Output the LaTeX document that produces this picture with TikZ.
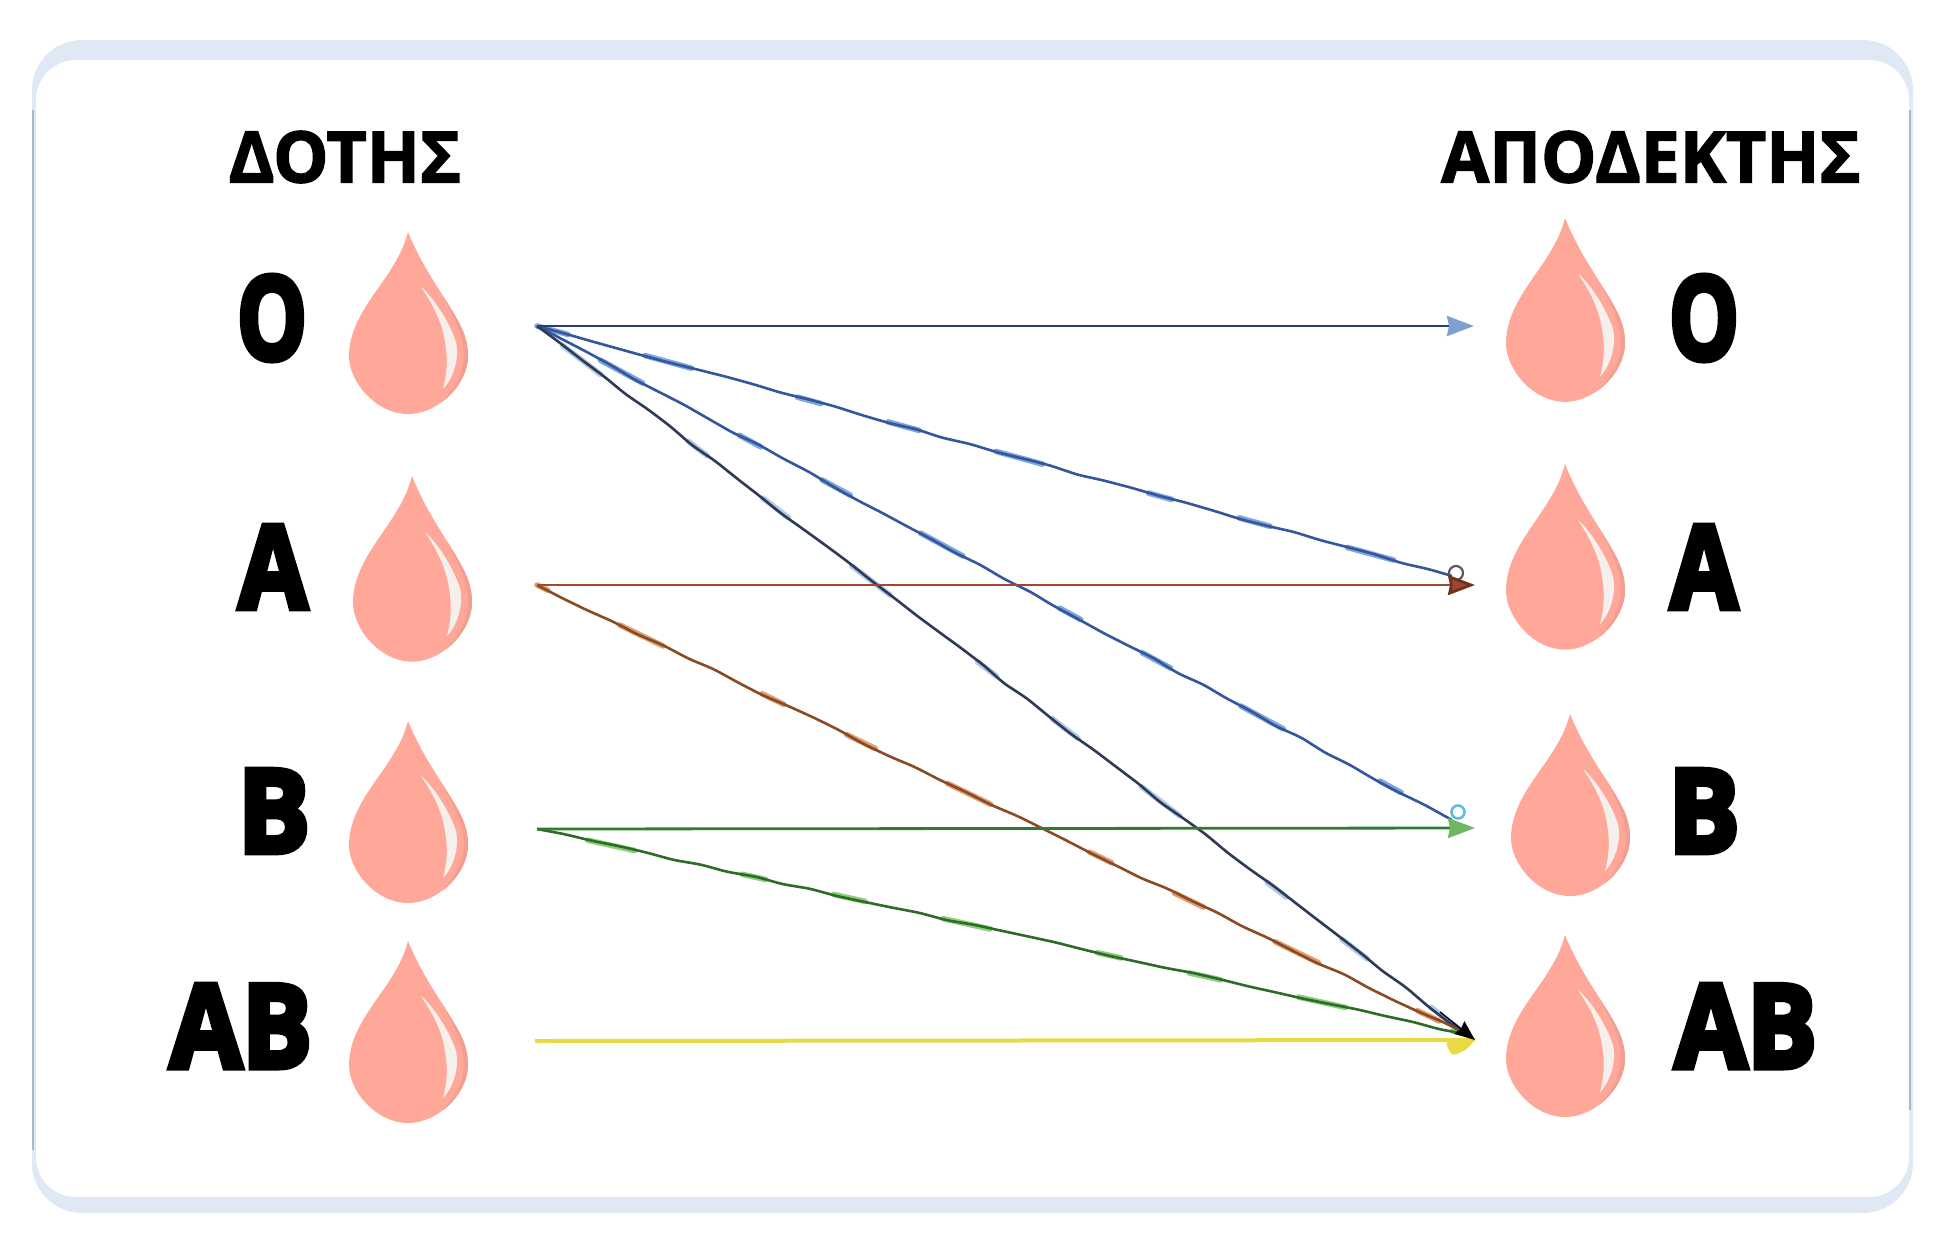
\documentclass[tikz,border=0pt]{standalone}
\usepackage{fontspec}
\setmainfont{Open Sans}
\newfontfamily\heavyf{Open Sans}[BoldFeatures={FakeBold=5}]
\newfontfamily\headf{Open Sans}[BoldFeatures={FakeBold=2}]
\usetikzlibrary{arrows.meta,decorations.pathmorphing}
\definecolor{dropc}{HTML}{FFA899}
\definecolor{rimc}{HTML}{F29E90}
\definecolor{shine}{HTML}{F6F0EC}
\definecolor{panelband}{HTML}{DFE9F6}
\definecolor{panelline}{HTML}{A9B9C9}
\definecolor{navyl}{HTML}{27406F}
\definecolor{bluel}{HTML}{34569C}
\definecolor{darkl}{HTML}{2E3B55}
\definecolor{bluehalo}{HTML}{7FA6DE}
\definecolor{brownl}{HTML}{A0482E}
\definecolor{browndiag}{HTML}{8A4A24}
\definecolor{brownhalo}{HTML}{E0A070}
\definecolor{greenl}{HTML}{2F7D2C}
\definecolor{greendiag}{HTML}{2E6B2A}
\definecolor{greenhalo}{HTML}{8CD07C}
\definecolor{yell}{HTML}{E9DA45}
\tikzset{
  x=0.5pt,y=-0.5pt,
  bigtype/.style={inner sep=0,anchor=center,font=\heavyf\bfseries\fontsize{58}{64}\selectfont,text=black},
  headtype/.style={inner sep=0,anchor=center,xscale=.98,font=\headf\bfseries\fontsize{35.5}{40}\selectfont,text=black},
  fleck/.style={line width=2.8pt,line cap=round,dash pattern=on 16pt off 40pt on 24pt off 55pt on 12pt off 35pt,dash phase=#1},
  wobble/.style={line width=1.3pt,decorate,decoration={random steps,segment length=14pt,amplitude=0.6pt},rounded corners=3pt},
  hline/.style={line width=1.4pt},
  pics/drop/.style={code={
    \fill[dropc] (0,0) .. controls (-5,18) and (-10,26) .. (-20,42) .. controls (-36,66) and (-59,92) .. (-59,124)
      .. controls (-59,150) and (-32,182) .. (0,182) .. controls (32,182) and (60,150) .. (60,124)
      .. controls (60,105) and (52,92) .. (45,80) .. controls (30,55) and (14,34) .. (0,0) -- cycle;
    \fill[rimc] (60,124) .. controls (60,105) and (52,92) .. (45,80) .. controls (42,75) and (38,69) .. (35,64)
      .. controls (44,82) and (56,102) .. (56,124) .. controls (56,142) and (44,160) .. (34,170)
      .. controls (48,160) and (60,142) .. (60,124) -- cycle;
    \fill[shine] (13,55) .. controls (22,62) and (40,86) .. (48,110) .. controls (52,128) and (44,148) .. (35,157)
      .. controls (39,142) and (41,125) .. (35,100) .. controls (31,84) and (22,68) .. (13,55) -- cycle;
  }}
}
\begin{document}
\begin{tikzpicture}
\useasboundingbox (0,0) rectangle (1940,1244);
\fill[white] (0,0) rectangle (1940,1244);
\fill[panelband,rounded corners=25pt] (32,40) rectangle (1913,1213);
\fill[white,rounded corners=20pt] (36,60) rectangle (1909,1197);
\draw[line width=0.6pt,panelline] (33,110) -- (33,1150);
\draw[line width=0.6pt,panelline] (1910,110) -- (1910,1110);

\pic at (408,232) {drop};
\pic[yscale=1.02] at (412,476) {drop};
\pic at (408,721) {drop};
\pic at (408,941) {drop};
\pic[yscale=1.01] at (1565,218) {drop};
\pic[yscale=1.02] at (1565,464) {drop};
\pic at (1570,714) {drop};
\pic at (1565,935) {drop};

\node[headtype] (donor) at (345,157) {ΔΟΤΗΣ};
\node[headtype] (recip) at (1651,157) {ΑΠΟΔΕΚΤΗΣ};

\node[bigtype,xscale=.76] (lo) at (272,318) {O};
\node[bigtype,xscale=.86] (la) at (273,567) {A};
\node[bigtype,xscale=.93] (lb) at (274,811) {B};
\node[bigtype,xscale=.9] (lab) at (241,1026) {AB};
\node[bigtype,xscale=.76] (ro) at (1704,318) {O};
\node[bigtype,xscale=.84] (ra) at (1704,567) {A};
\node[bigtype,xscale=.92] (rb) at (1704,811) {B};
\node[bigtype,xscale=.9] (rab) at (1746,1026) {AB};

\coordinate (so) at (537,326);
\coordinate (sa) at (537,585);
\coordinate (sb) at (537,829);
\coordinate (sab) at (535,1041);
\coordinate (to) at (1474,326);
\coordinate (toa) at (1452,576);
\coordinate (ta) at (1475,585);
\coordinate (tob) at (1452,820);
\coordinate (tb) at (1475,828);
\coordinate (toab) at (1466,1034);
\coordinate (tab) at (1475,1040);
\coordinate (loopa) at (1456,573);
\coordinate (loopb) at (1458,812);
\coordinate (blobl) at (1445,1042);
\coordinate (blobb) at (1452,1056);
\coordinate (blobr) at (1466,1050);

% light flecks along the diagonals
\draw[bluehalo,fleck=0pt] (so) -- (toa);
\draw[bluehalo,fleck=20pt] (so) -- (tob);
\draw[bluehalo!60,fleck=40pt] (so) -- (toab);
\draw[brownhalo,fleck=10pt] (sa) -- (toab);
\draw[greenhalo,fleck=30pt] (sb) -- (toab);
% wobbly diagonals
\pgfmathsetseed{11}
\draw[bluel,wobble] (so) -- (toa);
\draw[bluel,wobble] (so) -- (tob);
\draw[darkl,wobble] (so) -- (toab);
\draw[browndiag,wobble] (sa) -- (toab);
\draw[greendiag,wobble] (sb) -- (toab);
% horizontal arrows
\draw[navyl,hline,-{Stealth[length=13.5pt,width=10pt,inset=1pt,fill=bluehalo!85!gray,color=bluehalo!85!gray]}] (so) -- (to);
\draw[gray!70!black,line width=1.1pt] (loopa) circle[radius=7];
\draw[brownl,hline,-{Stealth[length=13.5pt,width=10pt,inset=1pt,fill=brownl,color=brownl!70!black]}] (sa) -- (ta);
\draw[bluehalo!80!cyan,line width=1.3pt] (loopb) circle[radius=6.5];
\draw[greenl,hline,-{Stealth[length=13.5pt,width=10pt,inset=1pt,fill=greenhalo!70!greenl,color=greenhalo!70!greenl]}] (sb) -- (tb);
\fill[yell,rounded corners=2pt] (blobl) -- (blobb) -- (blobr) -- (tab) -- cycle;
\draw[yell,line width=2pt] (sab) -- (tab);
\draw[black,line width=.7pt,-{Stealth[length=10pt,width=8pt,inset=1pt]}] (1440,1012) -- (tab);
\end{tikzpicture}
\end{document}
